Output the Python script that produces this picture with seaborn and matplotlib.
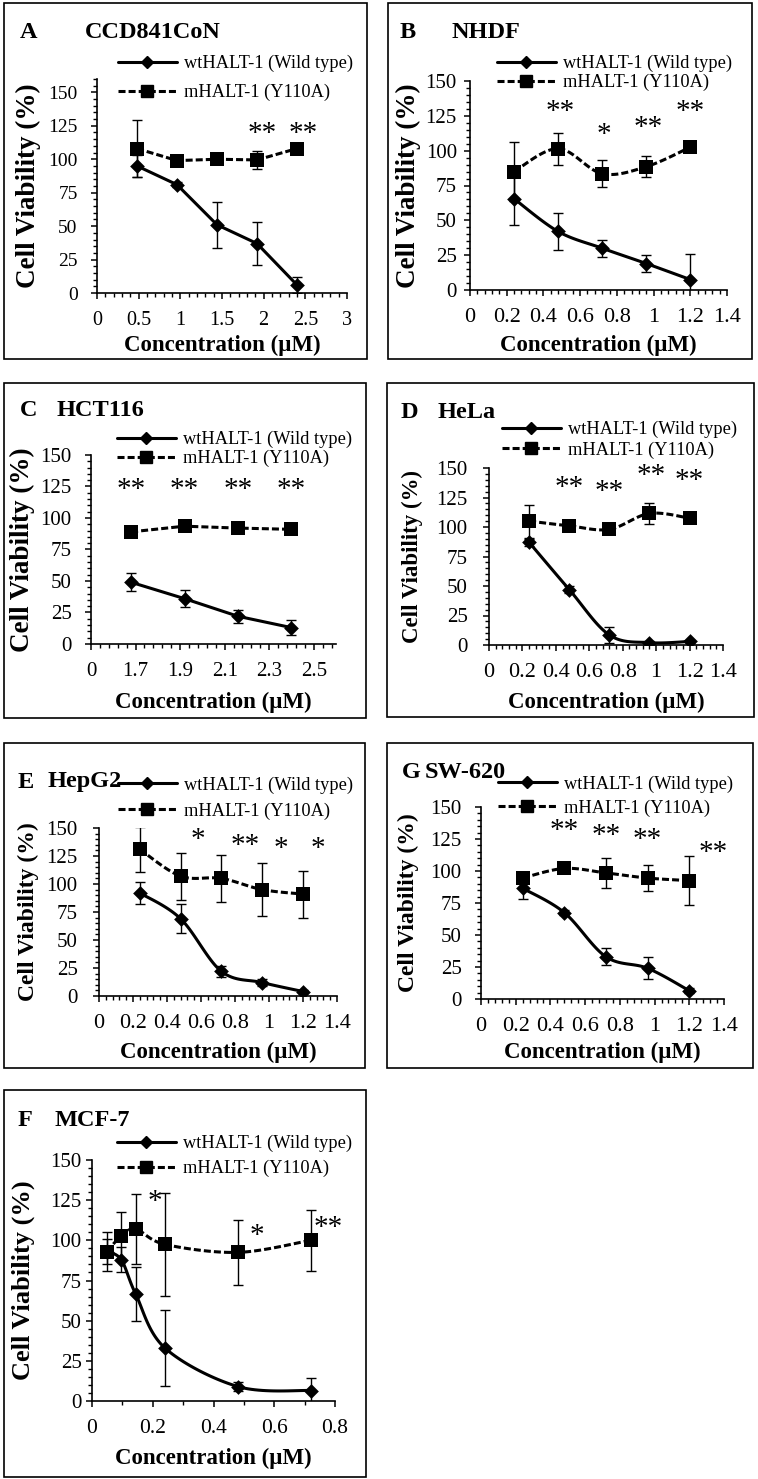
import numpy as np
import pandas as pd
import matplotlib
matplotlib.use("Agg")
import matplotlib.pyplot as plt
import seaborn as sns
from matplotlib.lines import Line2D
from matplotlib.patches import Rectangle
from matplotlib.ticker import AutoMinorLocator

# values
label_wt = "wtHALT-1 (Wild type)"
label_mut = "mHALT-1 (Y110A)"
x_title = "Concentration (\u00b5M)"
y_title = "Cell Viability (%)"

y_ticks = [0, 25, 50, 75, 100, 125, 150]
xt_A = [0, 0.5, 1, 1.5, 2, 2.5, 3]
xtl_A = ["0", "0.5", "1", "1.5", "2", "2.5", "3"]
xt_14 = [0, 0.2, 0.4, 0.6, 0.8, 1.0, 1.2, 1.4]
xtl_14 = ["0", "0.2", "0.4", "0.6", "0.8", "1", "1.2", "1.4"]
xt_C = [1.5, 1.7, 1.9, 2.1, 2.3, 2.5]
xtl_C = ["0", "1.7", "1.9", "2.1", "2.3", "2.5"]
xt_F = [0, 0.2, 0.4, 0.6, 0.8]
xtl_F = ["0", "0.2", "0.4", "0.6", "0.8"]

# A - CCD841CoN
conc_A = [0.48, 0.96, 1.44, 1.92, 2.40]
wt_A = [95, 81, 51, 37, 6]
wt_err_A = [8, 2, 17, 16, 6]
mut_A = [108, 99, 100, 99.5, 108]
mut_err_A = [21, 2, 2, 7, 2]
stars_A = ["**", "**"]
star_x_A = [1.98, 2.48]
star_y_A = [119, 119]

# B - NHDF
conc_B = [0.24, 0.48, 0.72, 0.96, 1.2]
wt_B = [65.5, 42, 30, 19, 7.5]
wt_err_B = [19, 13, 6, 6, 18.5]
mut_B = [85, 101.5, 83.5, 88.5, 102.5]
mut_err_B = [21, 11.5, 9.5, 7.5, 3]
stars_B = ["**", "*", "**", "**"]
star_x_B = [0.49, 0.73, 0.97, 1.2]
star_y_B = [128, 111, 116, 128]

# C - HCT116
conc_C = [1.68, 1.92, 2.16, 2.40]
wt_C = [49, 36, 22, 13]
wt_err_C = [7, 7, 5, 6]
mut_C = [89, 93.5, 92, 91]
mut_err_C = [2, 2, 2, 2]
stars_C = ["**", "**", "**", "**"]
star_x_C = [1.68, 1.92, 2.16, 2.40]
star_y_C = [122, 122, 122, 122]

# D - HeLa
conc_D = [0.24, 0.48, 0.72, 0.96, 1.2]
wt_D = [87, 47, 8.5, 2, 3]
wt_err_D = [3, 3, 7, 1, 1]
mut_D = [105, 101, 98, 111.5, 107.5]
mut_err_D = [14, 3, 3, 9, 2]
stars_D = ["**", "**", "**", "**"]
star_x_D = [0.48, 0.72, 0.97, 1.2]
star_y_D = [133, 130, 143, 139]

# E - HepG2
conc_E = [0.24, 0.48, 0.72, 0.96, 1.2]
wt_E = [92, 69, 22, 12, 4]
wt_err_E = [10, 13, 5, 3, 1]
mut_E = [131, 107, 105, 95, 91]
mut_err_E = [20, 21, 21, 24, 21]
stars_E = ["*", "**", "*", "*"]
star_x_E = [0.58, 0.86, 1.07, 1.29]
star_y_E = [139, 133.5, 131.5, 131.5]

# G - SW-620
conc_G = [0.24, 0.48, 0.72, 0.96, 1.2]
wt_G = [86.5, 67.5, 33, 24, 6.5]
wt_err_G = [8, 2, 6.5, 8.5, 2]
mut_G = [94.5, 102, 98.5, 94.5, 92.5]
mut_err_G = [3, 3, 12, 10, 19]
stars_G = ["**", "**", "**", "**"]
star_x_G = [0.48, 0.72, 0.96, 1.34]
star_y_G = [131, 127, 124, 114]

# F - MCF-7
conc_F = [0.048, 0.096, 0.144, 0.24, 0.48, 0.72]
wt_F = [93, 88, 66.5, 33, 9, 6.5]
wt_err_F = [8, 8, 17, 23.5, 3, 8]
mut_F = [93, 102.5, 107, 97.5, 92.5, 100]
mut_err_F = [12, 15, 22, 32, 20, 19]
stars_F = ["*", "*", "**"]
star_x_F = [0.208, 0.542, 0.778]
star_y_F = [124, 103, 107.5]

W, H = 758, 1479
DASH = (0, (2.3, 1.0))

sns.set_theme(style="ticks", rc={"text.color": "black", "axes.labelcolor": "black",
                                  "xtick.color": "black", "ytick.color": "black",
                                  "axes.edgecolor": "black"})
plt.rcParams["font.family"] = ["Liberation Serif", "DejaVu Serif"]


def fx(px):
    return px / W


def fy(py):
    return 1 - py / H


def smooth(xs, ys, n=24):
    # Excel-style smoothed line (cubic Bezier through the points)
    p = np.column_stack([xs, ys]).astype(float)
    ext = np.vstack([p[0], p, p[-1]])
    t = np.linspace(0, 1, n)[1:, None]
    out = [p[:1]]
    for i in range(1, len(ext) - 2):
        p0, p1, p2, p3 = ext[i - 1], ext[i], ext[i + 1], ext[i + 2]
        c1 = p1 + (p2 - p0) / 6
        c2 = p2 - (p3 - p1) / 6
        out.append((1 - t) ** 3 * p1 + 3 * (1 - t) ** 2 * t * c1 + 3 * (1 - t) * t ** 2 * c2 + t ** 3 * p2)
    out = np.vstack(out)
    return out[:, 0], out[:, 1]


def draw_series(ax, x, y, err, marker, msize, ls, smoothed):
    if smoothed:
        lx, ly = smooth(x, y)
    else:
        lx, ly = np.asarray(x, float), np.asarray(y, float)
    sns.lineplot(x=lx, y=ly, ax=ax, color="black", linewidth=2.2, linestyle=ls,
                 sort=False, estimator=None, legend=False, zorder=2)
    ax.errorbar(x, y, yerr=err, fmt="none", ecolor="black", elinewidth=1.0,
                capsize=3.5, capthick=1.0, zorder=3)
    sns.scatterplot(x=x, y=y, ax=ax, marker=marker, s=msize ** 2, color="black",
                    edgecolor="black", linewidth=0, legend=False, zorder=4)


fig = plt.figure(figsize=(W / 100, H / 100), dpi=100)

# letter, name, data..., layout
panels = [
    dict(letter="A", name="CCD841CoN", x=conc_A, wt=wt_A, we=wt_err_A, mu=mut_A, me=mut_err_A,
         st=stars_A, sx=star_x_A, sy=star_y_A, xt=xt_A, xtl=xtl_A,
         box=(4, 3, 367, 359), ax=(97, 79, 347, 293), xlim=(0, 3), ymax=160, minor=5,
         xfs=14.5, yfs=14, ypad=9.4, tl=(20, 85, 33), leg=(118, 78, 0.62),
         xl=345, yl=28, ylfs=19.5, smooth=False),
    dict(letter="B", name="NHDF", x=conc_B, wt=wt_B, we=wt_err_B, mu=mut_B, me=mut_err_B,
         st=stars_B, sx=star_x_B, sy=star_y_B, xt=xt_14, xtl=xtl_14,
         box=(388, 3, 752, 359), ax=(470, 81, 727, 290), xlim=(0, 1.4), ymax=150, minor=5,
         xfs=16, yfs=15, ypad=5, tl=(400, 452, 32), leg=(497, 73, 0.08),
         xl=345, yl=408, ylfs=19.5, smooth=True),
    dict(letter="C", name="HCT116", x=conc_C, wt=wt_C, we=wt_err_C, mu=mut_C, me=mut_err_C,
         st=stars_C, sx=star_x_C, sy=star_y_C, xt=xt_C, xtl=xtl_C,
         box=(4, 383, 366, 718), ax=(91, 455, 336, 644), xlim=(1.5, 2.6), ymax=150, minor=5,
         xfs=15, yfs=15, ypad=9.4, tl=(20, 57, 411), leg=(117, 449, 0.08),
         xl=702, yl=22, ylfs=19.5, smooth=False),
    dict(letter="D", name="HeLa", x=conc_D, wt=wt_D, we=wt_err_D, mu=mut_D, me=mut_err_D,
         st=stars_D, sx=star_x_D, sy=star_y_D, xt=xt_14, xtl=xtl_14,
         box=(387, 383, 754, 717), ax=(489, 468, 723, 645), xlim=(0, 1.4), ymax=150, minor=5,
         xfs=16, yfs=15, ypad=10.8, tl=(401, 438, 412), leg=(502, 440, 0.18),
         xl=702, yl=412, ylfs=16.5, smooth=True),
    dict(letter="E", name="HepG2", x=conc_E, wt=wt_E, we=wt_err_E, mu=mut_E, me=mut_err_E,
         st=stars_E, sx=star_x_E, sy=star_y_E, xt=xt_14, xtl=xtl_14,
         box=(4, 743, 365, 1068), ax=(99, 828, 337, 996), xlim=(0, 1.4), ymax=150, minor=5,
         xfs=16, yfs=15, ypad=10.8, tl=(18, 48, 782), leg=(118, 798, 0.46),
         xl=1052, yl=28, ylfs=17, smooth=True),
    dict(letter="G", name="SW-620", x=conc_G, wt=wt_G, we=wt_err_G, mu=mut_G, me=mut_err_G,
         st=stars_G, sx=star_x_G, sy=star_y_G, xt=xt_14, xtl=xtl_14,
         box=(387, 743, 753, 1068), ax=(481, 807, 724, 999), xlim=(0, 1.4), ymax=150, minor=5,
         xfs=16, yfs=15, ypad=9.4, tl=(402, 425, 772), leg=(498, 796, 0.36),
         xl=1052, yl=408, ylfs=17, smooth=True),
    dict(letter="F", name="MCF-7", x=conc_F, wt=wt_F, we=wt_err_F, mu=mut_F, me=mut_err_F,
         st=stars_F, sx=star_x_F, sy=star_y_F, xt=xt_F, xtl=xtl_F,
         box=(4, 1090, 366, 1477), ax=(92, 1160, 335, 1401), xlim=(0, 0.8), ymax=150, minor=2,
         xfs=15.5, yfs=15, ypad=3, tl=(18, 55, 1120), leg=(117, 1156, 0.42),
         xl=1458, yl=23, ylfs=19, smooth=True),
]

for p in panels:
    x0, y0, x1, y1 = p["box"]
    fig.add_artist(Rectangle((fx(x0), fy(y1)), (x1 - x0) / W, (y1 - y0) / H,
                             transform=fig.transFigure, fill=False, edgecolor="black", lw=1.2))

    l, t, r, b = p["ax"]
    ax = fig.add_axes([fx(l), fy(b), (r - l) / W, (b - t) / H])
    ax.set_facecolor("none")

    draw_series(ax, p["x"], p["wt"], p["we"], "D", 7.5, "-", p["smooth"])
    draw_series(ax, p["x"], p["mu"], p["me"], "s", 10, DASH, p["smooth"])

    for s, sx, sy in zip(p["st"], p["sx"], p["sy"]):
        ax.text(sx, sy, s, ha="center", va="center", fontsize=21)

    ax.set_xlim(*p["xlim"])
    ax.set_ylim(0, p["ymax"])
    ax.set_yticks(y_ticks)
    ax.set_xticks(p["xt"])
    ax.set_xticklabels(p["xtl"])
    ax.xaxis.set_minor_locator(AutoMinorLocator(p["minor"]))
    ax.yaxis.set_minor_locator(AutoMinorLocator(5))
    ax.tick_params(which="major", direction="out", length=4.5, width=1.1)
    ax.tick_params(which="minor", direction="out", length=3, width=1.0)
    ax.tick_params(axis="x", which="major", labelsize=p["xfs"], pad=8.5)
    ax.tick_params(axis="y", which="major", labelsize=p["yfs"], pad=p["ypad"])
    sns.despine(ax=ax)
    for side in ["left", "bottom"]:
        ax.spines[side].set_linewidth(1.2)
        ax.spines[side].set_color("black")

    ax.set_xlabel(x_title, fontsize=16.5, fontweight="bold")
    ax.set_ylabel(y_title, fontsize=p["ylfs"], fontweight="bold")
    ax.xaxis.label.set_va("center")
    ax.yaxis.label.set_va("center")
    ax.xaxis.set_label_coords(fx((l + r) / 2), fy(p["xl"]), transform=fig.transFigure)
    ax.yaxis.set_label_coords(fx(p["yl"]), fy((t + b) / 2), transform=fig.transFigure)

    lx, ln, ty = p["tl"]
    fig.text(fx(lx), fy(ty), p["letter"], fontsize=17.5, fontweight="bold", ha="left", va="center")
    fig.text(fx(ln), fy(ty), p["name"], fontsize=17.5, fontweight="bold", ha="left", va="center")

    hx, hy, sp = p["leg"]
    handles = [Line2D([], [], color="black", lw=2.2, marker="D", ms=6.5),
               Line2D([], [], color="black", lw=2.2, ls=DASH, marker="s", ms=8.5)]
    fig.legend(handles, [label_wt, label_mut], loc="center left",
               bbox_to_anchor=(fx(hx), fy(hy)), frameon=False, fontsize=13.2,
               handlelength=3.2, handletextpad=0.4, labelspacing=sp,
               borderpad=0, borderaxespad=0)

fig.savefig("out.png", dpi=100)
